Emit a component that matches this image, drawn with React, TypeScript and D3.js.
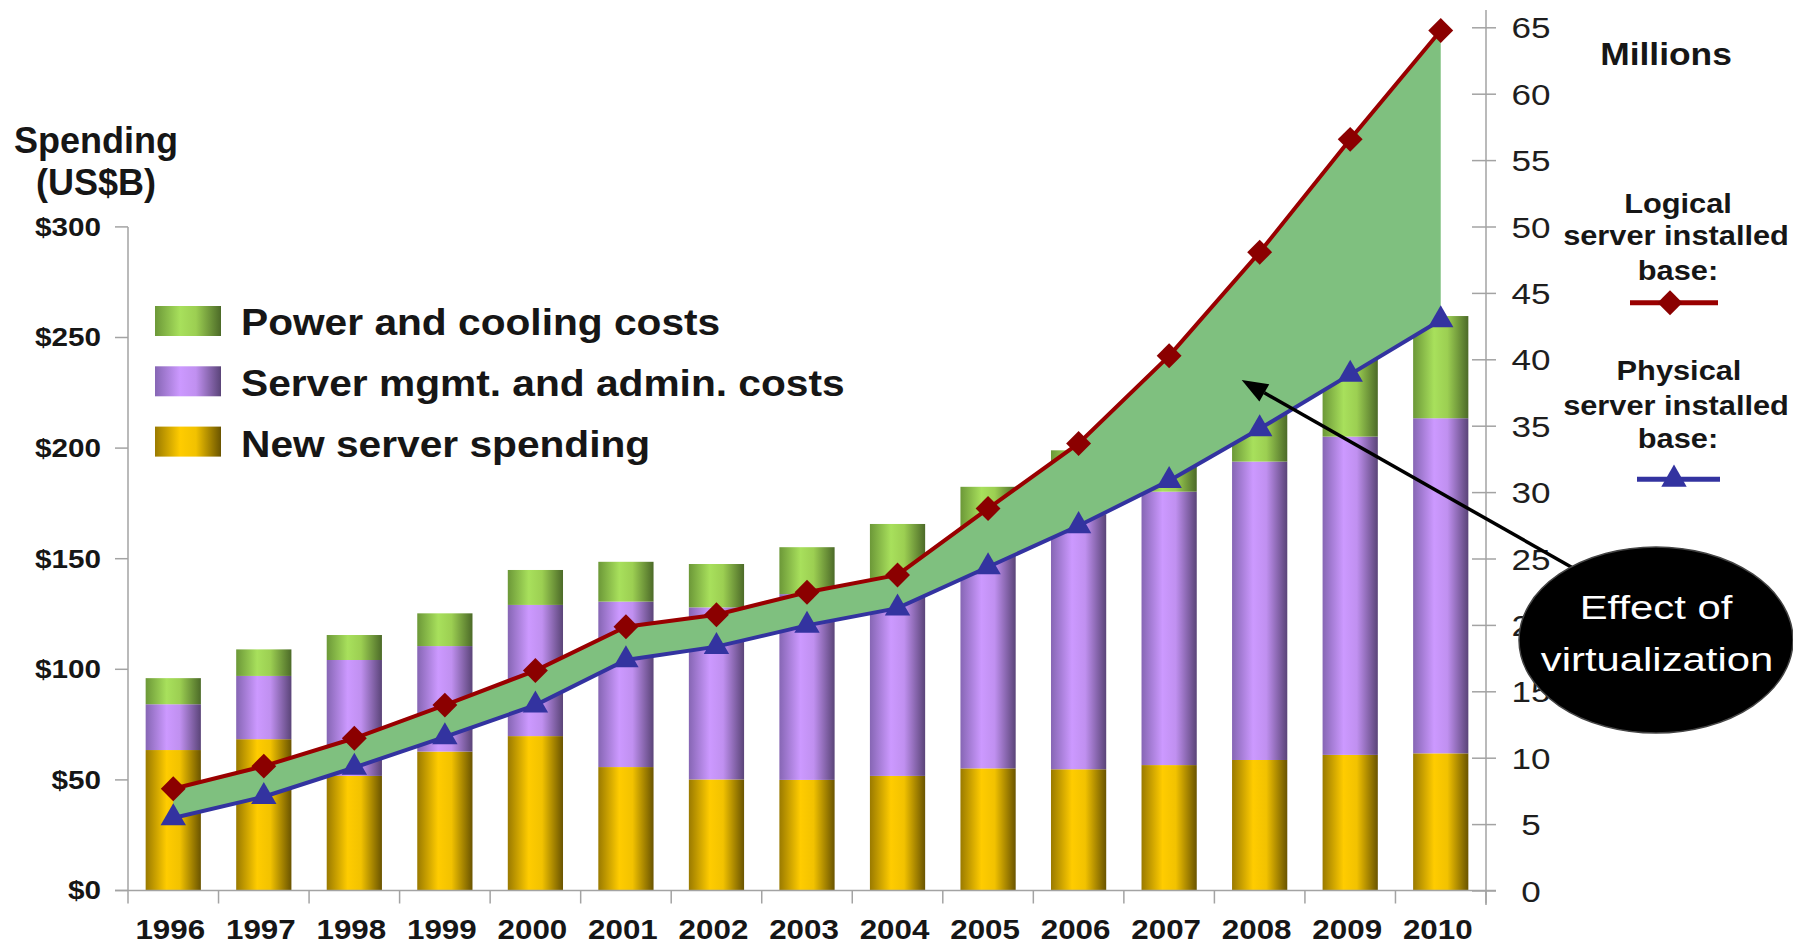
import React from "react";
import * as d3 from "d3";

// spending by year, US$B (stacked bars, left axis)
const years = ["1996", "1997", "1998", "1999", "2000", "2001", "2002", "2003", "2004", "2005", "2006", "2007", "2008", "2009", "2010"];
const newServerSpending = [63.5, 68.4, 51.8, 62.8, 69.8, 55.8, 50.2, 50, 51.8, 55.2, 54.8, 56.7, 59, 61.3, 62];
const mgmtAdminCosts = [20.7, 28.6, 52.4, 47.7, 59.3, 74.8, 77.8, 84, 89.2, 100.8, 115.2, 123.6, 134.9, 143.9, 151.5];
const powerCoolingCosts = [11.8, 12, 11.3, 14.8, 15.8, 18, 19.6, 21.2, 24.7, 26.5, 29, 31.7, 34.1, 37.8, 46.2];

// installed base, millions (lines, right axis)
const logicalServers = [7.7, 9.4, 11.5, 14.0, 16.6, 19.9, 20.8, 22.5, 23.8, 28.8, 33.7, 40.3, 48.1, 56.6, 64.8];
const physicalServers = [5.5, 7.1, 9.3, 11.6, 14.0, 17.4, 18.4, 20.0, 21.3, 24.4, 27.5, 30.9, 34.8, 38.9, 43.0];

const spendingTicks = [0, 50, 100, 150, 200, 250, 300];
const serverTicks = [0, 5, 10, 15, 20, 25, 30, 35, 40, 45, 50, 55, 60, 65];

const legendItems = [
  { key: "power", label: "Power and cooling costs" },
  { key: "mgmt", label: "Server mgmt. and admin. costs" },
  { key: "newServer", label: "New server spending" },
];

const FONT = "'Liberation Sans', Arial, sans-serif";
const W = 1793;
const H = 945;

const gradients: Record<string, string[]> = {
  newServer: ["#9a7a00", "#ffcc00", "#f2c200", "#6a5400"],
  mgmt: ["#8666b4", "#cc99ff", "#c090f0", "#5a4478"],
  power: ["#6c9838", "#a8e05c", "#9ccf52", "#4c6a28"],
};

function Txt(props: any) {
  const { x, y, sx = 1, size, weight = "bold", anchor = "middle", fill = "#161616", baseline, children } = props;
  return (
    <text
      transform={`translate(${x},${y}) scale(${sx},1)`}
      fontSize={size}
      fontWeight={weight}
      textAnchor={anchor}
      fill={fill}
      dominantBaseline={baseline}
      fontFamily={FONT}
    >
      {children}
    </text>
  );
}

export default function App() {
  const x = d3.scaleBand<string>().domain(years).range([128, 1486]).paddingInner(0.39).paddingOuter(0.195);
  const bw = x.bandwidth();
  const cx = (i: number) => (x(years[i]) as number) + bw / 2;
  const yL = d3.scaleLinear().domain([0, 300]).range([890.5, 226.9]);
  const yR = d3.scaleLinear().domain([0, 65]).range([891, 27.8]);

  const rows = years.map((yr, i) => ({
    year: yr,
    newServer: newServerSpending[i],
    mgmt: mgmtAdminCosts[i],
    power: powerCoolingCosts[i],
  }));
  const stacked = d3.stack<any>().keys(["newServer", "mgmt", "power"])(rows);

  const area = d3
    .area<number>()
    .x((_, i) => cx(i))
    .y0((_, i) => yR(physicalServers[i]))
    .y1((d) => yR(d));
  const line = d3
    .line<number>()
    .x((_, i) => cx(i))
    .y((d) => yR(d));

  const diamond = d3.symbol().type(d3.symbolSquare).size(310)() as string;
  const triangle = d3.symbol().type(d3.symbolTriangle).size(280)() as string;

  const step = x.step();
  const boundaries = d3.range(years.length + 1).map((i) => 128 + i * step);

  // callout arrow
  const tip = [1241.7, 380];
  const tail = [1580, 572];
  const len = Math.hypot(tail[0] - tip[0], tail[1] - tip[1]);
  const ux = (tail[0] - tip[0]) / len;
  const uy = (tail[1] - tip[1]) / len;
  const head = 26;
  const hw = 10;
  const bx = tip[0] + ux * head;
  const by = tip[1] + uy * head;
  const arrowHead = `M${tip[0]},${tip[1]}L${bx - uy * hw},${by + ux * hw}L${bx + uy * hw},${by - ux * hw}Z`;

  const axisColor = "#a3a3a3";

  return (
    <div style={{ position: "absolute", left: 0, top: 0 }}>
      <svg width={W} height={H} style={{ display: "block", background: "#fff" }}>
        <defs>
          {Object.keys(gradients).map((k) => (
            <linearGradient key={k} id={`grad-${k}`} x1="0" x2="1" y1="0" y2="0">
              <stop offset="0%" stopColor={gradients[k][0]} />
              <stop offset="38%" stopColor={gradients[k][1]} />
              <stop offset="62%" stopColor={gradients[k][2]} />
              <stop offset="100%" stopColor={gradients[k][3]} />
            </linearGradient>
          ))}
        </defs>

        {/* left title */}
        <Txt x={96} y={153} size={36} sx={1.0}>Spending</Txt>
        <Txt x={96} y={195} size={36} sx={1.0}>(US$B)</Txt>

        {/* bars */}
        {stacked.map((s) =>
          s.map((d, i) => (
            <rect
              key={`${s.key}-${i}`}
              x={x(years[i])}
              y={yL(d[1])}
              width={bw}
              height={yL(d[0]) - yL(d[1])}
              fill={`url(#grad-${s.key})`}
            />
          ))
        )}

        {/* left axis */}
        <line x1={128} x2={128} y1={yL(300)} y2={yL(0)} stroke={axisColor} strokeWidth={1.5} />
        {spendingTicks.map((v) => (
          <g key={v}>
            <line x1={115} x2={128} y1={yL(v)} y2={yL(v)} stroke={axisColor} strokeWidth={1.5} />
            <Txt x={101} y={yL(v)} size={26.5} sx={1.12} anchor="end" baseline="central">{`$${v}`}</Txt>
          </g>
        ))}

        {/* bottom axis */}
        <line x1={115} x2={1496} y1={yL(0)} y2={yL(0)} stroke={axisColor} strokeWidth={1.5} />
        {boundaries.map((bxp, i) => (
          <line key={i} x1={bxp} x2={bxp} y1={yL(0)} y2={yL(0) + 13} stroke={axisColor} strokeWidth={1.5} />
        ))}
        {years.map((yr, i) => (
          <Txt key={yr} x={cx(i) - 3} y={939} size={28.5} sx={1.1}>{yr}</Txt>
        ))}

        {/* right axis */}
        <line x1={1486} x2={1486} y1={10} y2={905} stroke={axisColor} strokeWidth={1.5} />
        {serverTicks.map((v) => (
          <g key={v}>
            <line x1={1472} x2={1496} y1={yR(v)} y2={yR(v)} stroke={axisColor} strokeWidth={1.5} />
            <Txt x={1531} y={yR(v)} size={30} sx={1.17} weight="normal" baseline="central" fill="#1e1e1e">{String(v)}</Txt>
          </g>
        ))}

        {/* legend for bars */}
        {legendItems.map((it, i) => (
          <g key={it.key}>
            <rect x={155} y={306 + i * 60.3} width={66} height={30} fill={`url(#grad-${it.key})`} />
            <Txt x={241} y={335 + i * 60.8} size={37} sx={1.1} anchor="start">{it.label}</Txt>
          </g>
        ))}

        {/* virtualization gap */}
        <path d={area(logicalServers) as string} fill="#7fc07f" />
        <path d={line(logicalServers) as string} fill="none" stroke="#990000" strokeWidth={4} />
        <path d={line(physicalServers) as string} fill="none" stroke="#3333a0" strokeWidth={4} />
        {logicalServers.map((v, i) => (
          <path key={`d${i}`} d={diamond} transform={`translate(${cx(i)},${yR(v)}) rotate(45)`} fill="#8b0000" />
        ))}
        {physicalServers.map((v, i) => (
          <path key={`t${i}`} d={triangle} transform={`translate(${cx(i)},${yR(v)})`} fill="#3333a0" />
        ))}

        {/* right legend */}
        <Txt x={1666} y={65} size={30.5} sx={1.16}>Millions</Txt>
        <Txt x={1678} y={213} size={27} sx={1.14}>Logical</Txt>
        <Txt x={1676} y={245} size={27} sx={1.14}>server installed</Txt>
        <Txt x={1678} y={280} size={27} sx={1.14}>base:</Txt>
        <line x1={1630} x2={1718} y1={302.7} y2={302.7} stroke="#990000" strokeWidth={5} />
        <path d={diamond} transform={`translate(1670,302.7) rotate(45)`} fill="#8b0000" />

        <Txt x={1679} y={380} size={27} sx={1.14}>Physical</Txt>
        <Txt x={1676} y={415} size={27} sx={1.14}>server installed</Txt>
        <Txt x={1678} y={448} size={27} sx={1.14}>base:</Txt>
        <line x1={1637} x2={1720} y1={479.3} y2={479.3} stroke="#3333a0" strokeWidth={5} />
        <path d={triangle} transform={`translate(1674,479.3)`} fill="#3333a0" />

        {/* callout */}
        <line x1={tail[0]} y1={tail[1]} x2={bx} y2={by} stroke="#000" strokeWidth={3.5} />
        <path d={arrowHead} fill="#000" />
        <ellipse cx={1656} cy={640} rx={137} ry={93} fill="#000" stroke="#444" strokeWidth={1.5} />
        <Txt x={1656} y={619} size={34} sx={1.23} weight="normal" fill="#fff">Effect of</Txt>
        <Txt x={1657} y={671} size={34} sx={1.23} weight="normal" fill="#fff">virtualization</Txt>
      </svg>
    </div>
  );
}
